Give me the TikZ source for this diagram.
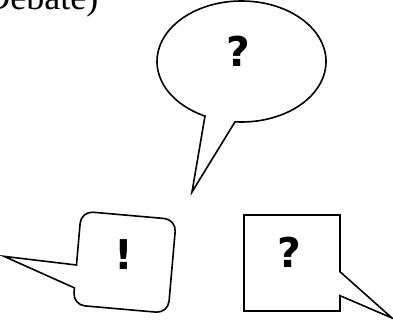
\documentclass[tikz,border=0pt]{standalone}
\usepackage{fontspec}
\setmainfont{Liberation Serif}
\newfontfamily\symfont{DejaVu Sans}
\usetikzlibrary{calc}
\tikzset{
  bubble/.style={draw=black, line width=1.6pt, line join=miter, fill=white},
  symb/.style={font=\symfont\bfseries\fontsize{41}{41}\selectfont, inner sep=0pt},
  heading/.style={font=\fontsize{36}{36}\selectfont, inner sep=0pt, anchor=base west}
}
\begin{document}
\begin{tikzpicture}[x=1pt,y=1pt]
\useasboundingbox (0,0) rectangle (393,320);
% heading (partly cut off by the page edge)
\node[heading] (title) at (-15.8,310) {Debate)};
% top oval bubble
\coordinate (ovc) at (241.5,258.5);
\coordinate (ovtip) at (192,128);
\draw[bubble] ($(ovc)+(-94.4:84.5pt and 60.5pt)$) arc[start angle=-94.4, end angle=244.4, x radius=84.5, y radius=60.5] -- (ovtip) -- cycle;
\node[symb] (q1) at (238,269) {?};
% bottom-left rounded bubble
\begin{scope}[shift={(124.6,57.8)}, rotate=-5]
\coordinate (rtip) at (-120.6,-4.7);
\draw[bubble] (-47.7,-7) -- (-47.7,35) arc[start angle=180, end angle=90, radius=12]
  -- (35.7,47) arc[start angle=90, end angle=0, radius=12]
  -- (47.7,-35) arc[start angle=0, end angle=-90, radius=12]
  -- (-35.7,-47) arc[start angle=-90, end angle=-180, radius=12]
  -- (-47.7,-30) -- (rtip) -- cycle;
\end{scope}
\node[symb] (ex) at (124,65) {!};
% bottom-right square bubble
\coordinate (stip) at (392,2);
\draw[bubble] (340,48.3) -- (340,105) -- (244,105) -- (244,9) -- (340,9) -- (340,24.3) -- (stip) -- cycle;
\node[symb] (q2) at (289,68) {?};
\end{tikzpicture}
\end{document}
